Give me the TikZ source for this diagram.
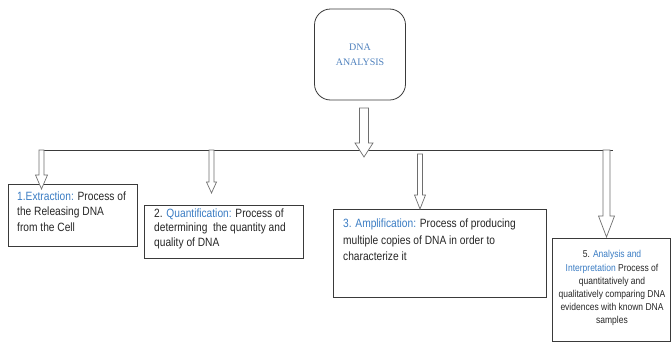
\documentclass[tikz,border=0pt]{standalone}
\usepackage{fontspec}
\setmainfont{Liberation Serif}
\newfontfamily\narrowsans[FakeStretch=0.85]{Liberation Sans}
\usetikzlibrary{positioning, calc}
\definecolor{TitleBlue}{HTML}{4F81BD}
\definecolor{LabelBlue}{HTML}{3A7CC3}
\definecolor{BodyText}{HTML}{262626}
\definecolor{FrameGray}{HTML}{3A3A3A}
\definecolor{ArrowGray}{HTML}{6E6E6E}

% hollow block arrow: top, tip, half shaft, half head, head length
\newcommand{\hollowarrow}[5]{%
  \draw[hollow] ($(#1)+(-#3,0)$) -- ($(#2)+(-#3,-#5)$) -- ($(#2)+(-#4,-#5)$) -- (#2)
    -- ($(#2)+(#4,-#5)$) -- ($(#2)+(#3,-#5)$) -- ($(#1)+(#3,0)$) -- cycle;}

\begin{document}
\begin{tikzpicture}[x=1pt, y=-1pt,
        frame/.style={draw=FrameGray, line width=0.8pt, inner sep=0pt, anchor=north west},
        titlebox/.style={draw=FrameGray, line width=0.8pt, rounded corners=16pt, minimum width=91pt, minimum height=91pt, align=center, text=TitleBlue, font=\fontsize{10}{15}\selectfont},
        steptext/.style={anchor=north west, inner sep=0pt, align=left, text=BodyText, font=\narrowsans\fontsize{12}{15.5}\selectfont},
        hollow/.style={draw=ArrowGray, line width=0.7pt, fill=white},
        bus/.style={draw=FrameGray, line width=0.8pt}
      ]
        \useasboundingbox (0,0) rectangle (671,343);

        % Nodes
        \node[titlebox] (dna) at (360,54.5) {DNA\\ANALYSIS};
        \node[frame, minimum width=129pt, minimum height=62pt] (extract) at (8,184) {};
        \node[frame, minimum width=159pt, minimum height=53pt] (quantify) at (144,205) {};
        \node[frame, minimum width=213pt, minimum height=88pt] (amplify) at (333,209) {};
        \node[frame, minimum width=118pt, minimum height=103pt] (interpret) at (552,238) {};

        \node[steptext] (extractTxt) at (17,191.5) {\textcolor{LabelBlue}{1.Extraction:} Process of\\the Releasing DNA\\from the Cell};
        \node[steptext, font=\narrowsans\fontsize{12}{14.5}\selectfont] (quantifyTxt) at (154,208.5) {2. \textcolor{LabelBlue}{Quantification:} Process of\\determining\ \ the quantity and\\quality of DNA};
        \node[steptext, font=\narrowsans\fontsize{12}{16.7}\selectfont] (amplifyTxt) at (343,218.5) {\textcolor{LabelBlue}{3. Amplification:} Process of producing\\multiple copies of DNA in order to\\characterize it};
        \node[steptext, anchor=north, align=center, font=\narrowsans\fontsize{10}{13.1}\selectfont] (interpretTxt) at (612,250.5) {5. \textcolor{LabelBlue}{Analysis and}\\\textcolor{LabelBlue}{Interpretation} Process of\\quantitatively and\\qualitatively comparing DNA\\evidences with known DNA\\samples};

        % Bus line and arrow ends
        \coordinate (busL) at (39,150);
        \coordinate (busR) at (613,150);
        \coordinate (dnaOut) at (364,108);
        \coordinate (dnaTip) at (364,157);
        \coordinate (extractIn) at (41.5,150);
        \coordinate (extractTip) at (41.5,189);
        \coordinate (quantifyIn) at (211.5,150);
        \coordinate (quantifyTip) at (211.5,193);
        \coordinate (amplifyIn) at (420,154);
        \coordinate (amplifyTip) at (420,209);
        \coordinate (interpretIn) at (606.5,150);
        \coordinate (interpretTip) at (606.5,237);

        % Connections
        \draw[bus] (busL) -- (busR);
        \hollowarrow{dnaOut}{dnaTip}{4.5}{9}{14}
        \hollowarrow{extractIn}{extractTip}{2.5}{6}{14}
        \hollowarrow{quantifyIn}{quantifyTip}{2.5}{5}{11}
        \hollowarrow{amplifyIn}{amplifyTip}{2.5}{5.5}{14}
        \hollowarrow{interpretIn}{interpretTip}{3.5}{8}{21}
      \end{tikzpicture}
\end{document}
